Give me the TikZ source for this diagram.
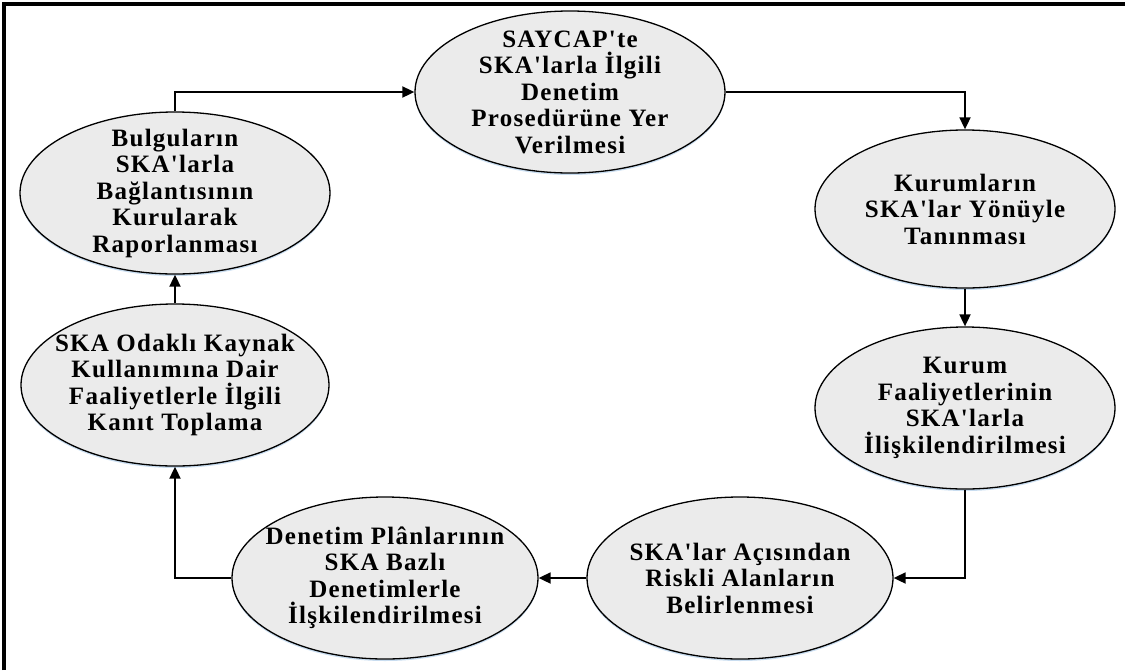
\documentclass[tikz,border=0pt]{standalone}
\usepackage{fontspec}
\setmainfont{Liberation Serif}
\newfontfamily\stepfont{Liberation Serif}[LetterSpace=5]
\usetikzlibrary{arrows.meta,shapes.geometric,shadows}
\definecolor{stepfill}{HTML}{EBEBEB}
\definecolor{glow}{HTML}{C9DDF0}
\tikzset{
  stepnode/.style={ellipse, draw=black, line width=1.3pt, fill=stepfill,
    inner sep=0pt, minimum width=310pt, minimum height=162pt,
    drop shadow={shadow xshift=0pt, shadow yshift=-2pt, fill=glow, opacity=1}},
  steptext/.style={align=center, font=\stepfont\bfseries\fontsize{25}{26.5}\selectfont},
  flow/.style={line width=1.8pt, -{Triangle[length=12pt,width=11pt]}},
  frame/.style={line width=3.5pt}
}
\begin{document}
\begin{tikzpicture}[x=1pt,y=-1pt]
\useasboundingbox (0,0) rectangle (1125,670);
% page frame (top and left rules)
\draw[frame] (4,670) -- (4,4) -- (1125,4);

% process steps
\node[stepnode, label={[steptext]center:SAYCAP'te\\SKA'larla İlgili\\Denetim\\Prosedürüne Yer\\Verilmesi}]
  (saycap) at (570,92) {};
\node[stepnode, minimum width=300pt, minimum height=158pt,
  label={[steptext]center:Kurumların\\SKA'lar Yönüyle\\Tanınması}]
  (kurum) at (965,209) {};
\node[stepnode, minimum width=300pt,
  label={[steptext]center:Kurum\\Faaliyetlerinin\\SKA'larla\\İlişkilendirilmesi}]
  (faal) at (965,408) {};
\node[stepnode, minimum width=306pt,
  label={[steptext]center:SKA'lar Açısından\\Riskli Alanların\\Belirlenmesi}]
  (risk) at (740,578) {};
\node[stepnode, minimum width=306pt,
  label={[steptext]center:Denetim Plânlarının\\SKA Bazlı\\Denetimlerle\\İlşkilendirilmesi}]
  (plan) at (385,578) {};
\node[stepnode, minimum width=308pt,
  label={[steptext]center:SKA Odaklı Kaynak\\Kullanımına Dair\\Faaliyetlerle İlgili\\Kanıt Toplama}]
  (odak) at (175,385) {};
\node[stepnode,
  label={[steptext]center:Bulguların\\SKA'larla\\Bağlantısının\\Kurularak\\Raporlanması}]
  (bulg) at (175,193) {};

% cycle connectors
\draw[flow] (bulg.north) |- (saycap.west);
\draw[flow] (saycap.east) -| (kurum.north);
\draw[flow] (kurum.south) -- (faal.north);
\draw[flow] (faal.south) |- (risk.east);
\draw[flow] (risk.west) -- (plan.east);
\draw[flow] (plan.west) -| (odak.south);
\draw[flow] (odak.north) -- (bulg.south);
\end{tikzpicture}
\end{document}
